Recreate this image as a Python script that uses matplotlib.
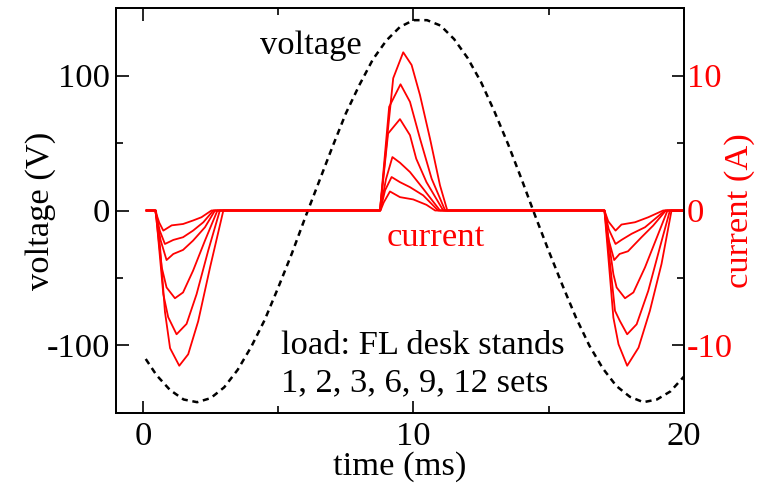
import matplotlib.pyplot as plt
from matplotlib.ticker import MultipleLocator

# voltage waveform (V)
t_volt = [0.1, 0.5, 1.0, 1.5, 2.0, 2.5, 3.0, 3.5, 4.0, 4.5, 5.0, 5.5, 6.0, 6.5,
          7.0, 7.5, 8.0, 8.5, 9.0, 9.5, 10.0, 10.5, 11.0, 11.5, 12.0, 12.5,
          13.0, 13.5, 14.0, 14.5, 15.0, 15.5, 16.0, 16.5, 17.0, 17.5, 18.0,
          18.5, 19.0, 19.5, 20.0]
volt = [-110, -122, -133, -140, -142, -139, -131, -118, -101, -81, -57, -32,
        -5, 21, 47, 72, 93, 112, 126, 136, 141, 141, 137, 127, 113, 95, 73,
        49, 23, -4, -30, -55, -79, -100, -117, -130, -138, -142, -140, -134,
        -123]

# current (A) for 1, 2, 3, 6, 9, 12 sets
t_1 = [0.13, 0.45, 0.6, 0.75, 1.06, 1.48, 1.85, 2.16, 2.53, 8.78, 8.9, 9.13,
       9.5, 9.99, 10.48, 10.8, 17.06, 17.2, 17.47, 17.69, 18.19, 18.68, 19.23, 20.0]
i_1 = [0, 0, -0.9, -1.49, -1.1, -1.0, -0.74, -0.5, 0, 0, 0.6, 1.41,
       0.99, 0.82, 0.42, 0, 0, -0.8, -1.49, -1.04, -0.87, -0.5, 0, 0]

t_2 = [0.13, 0.45, 0.62, 0.81, 1.12, 1.48, 1.85, 2.23, 2.6, 8.77, 8.95, 9.19,
       9.5, 9.87, 10.36, 10.91, 17.06, 17.22, 17.47, 17.69, 18.06, 18.56, 19.3, 20.0]
i_2 = [0, 0, -1.5, -2.48, -2.18, -1.98, -1.49, -0.87, 0, 0, 1.5, 2.48,
       2.1, 1.73, 1.12, 0, 0, -1.4, -2.48, -2.18, -1.73, -1.24, 0, 0]

t_3 = [0.13, 0.45, 0.65, 0.87, 1.12, 1.48, 1.85, 2.29, 2.66, 8.77, 8.98, 9.22,
       9.5, 9.87, 10.36, 10.98, 17.06, 17.22, 17.42, 17.62, 17.93, 18.43,
       18.86, 19.33, 20.0]
i_3 = [0, 0, -2.2, -3.67, -3.22, -2.92, -2.23, -1.24, 0, 0, 2.3, 3.96,
       3.54, 2.85, 1.61, 0, 0, -2.2, -3.67, -3.22, -3.02, -1.98,
       -1.12, 0, 0]

t_6 = [0.13, 0.46, 0.69, 0.87, 1.18, 1.48, 1.85, 2.29, 2.75, 8.76, 9.06, 9.5,
       9.87, 10.1, 10.48, 11.1, 17.06, 17.39, 17.51, 17.82, 18.13, 18.56,
       19.05, 19.39, 20.0]
i_6 = [0, 0, -4.2, -5.7, -6.5, -6.07, -4.46, -2.23, 0, 0, 5.7, 6.77,
       5.58, 3.84, 2.1, 0, 0, -4.71, -5.7, -6.5, -6.07, -4.21,
       -1.73, 0, 0]

t_9 = [0.13, 0.47, 0.75, 0.93, 1.24, 1.61, 1.98, 2.41, 2.84, 8.76, 9.1, 9.52,
       9.87, 10.24, 10.67, 11.17, 17.06, 17.45, 17.63, 17.9, 18.25, 18.68,
       19.11, 19.48, 20.0]
i_9 = [0, 0, -6.2, -7.9, -9.17, -8.4, -6.2, -2.97, 0, 0, 7.68, 9.35,
       8.05, 5.33, 2.36, 0, 0, -7.43, -8.18, -9.17, -8.43, -5.95,
       -2.73, 0, 0]

t_12 = [0.13, 0.48, 0.63, 0.81, 1.0, 1.34, 1.67, 2.04, 2.48, 2.97, 8.76, 9.06,
        9.25, 9.62, 9.93, 10.24, 10.61, 10.98, 11.25, 17.06, 17.39, 17.58,
        17.9, 18.32, 18.74, 19.17, 19.54, 20.0]
i_12 = [0, 0, -2.7, -7.5, -10.2, -11.5, -10.65, -8.2, -4.2, 0, 0, 6.07,
        9.8, 11.72, 10.78, 8.55, 5.33, 1.86, 0, 0, -7.93, -9.91,
        -11.5, -10.16, -7.43, -3.96, 0, 0]

plt.rcParams['font.family'] = ['Liberation Serif', 'DejaVu Serif']
plt.rcParams['font.size'] = 24.8
plt.rcParams['axes.unicode_minus'] = False
plt.rcParams['lines.scale_dashes'] = False

fig = plt.figure(figsize=(7.62, 4.92), dpi=100)
ax = fig.add_axes([0.1522, 0.1606, 0.7454, 0.8231])
ax2 = ax.twinx()

ax.plot(t_volt, volt, color='black', lw=1.8, dashes=(4.4, 3.4))

for tt, ii in [(t_1, i_1), (t_2, i_2), (t_3, i_3), (t_6, i_6), (t_9, i_9), (t_12, i_12)]:
    ax2.plot(tt, ii, color='red', lw=1.3)

ax.set_xlim(-1, 20)
ax.set_ylim(-150, 150)
ax2.set_ylim(-15, 15)

ax.xaxis.set_major_locator(MultipleLocator(10))
ax.xaxis.set_minor_locator(MultipleLocator(5))
ax.yaxis.set_major_locator(MultipleLocator(100))
ax.yaxis.set_minor_locator(MultipleLocator(50))
ax2.yaxis.set_major_locator(MultipleLocator(10))
ax2.yaxis.set_minor_locator(MultipleLocator(5))

ax.tick_params(which='both', direction='in', top=True, width=1.2)
ax.tick_params(which='major', length=9)
ax.tick_params(which='minor', length=5)
ax.tick_params(axis='x', pad=6)
ax.tick_params(axis='y', pad=4)
ax2.tick_params(which='both', direction='in', width=1.2, colors='black',
                labelcolor='red', pad=2)
ax2.tick_params(which='major', length=9)
ax2.tick_params(which='minor', length=5)

for a in (ax, ax2):
    for s in a.spines.values():
        s.set_linewidth(1.3)

ax.set_xlabel('time (ms)')
ax.set_ylabel('voltage (V)')
ax2.set_ylabel('current (A)', color='red')
ax.xaxis.set_label_coords(0.5, -0.094)
ax.yaxis.set_label_coords(-0.106, 0.5)
ax2.yaxis.set_label_coords(1.07, 0.5)

ax.text(6.21, 122, 'voltage', ha='center', va='center')
ax.text(10.83, -20, 'current', ha='center', va='center', color='red')
ax.text(5.1, -100, 'load: FL desk stands', ha='left', va='center')
ax.text(5.1, -128, '1, 2, 3, 6, 9, 12 sets', ha='left', va='center')

fig.savefig('out.png', dpi=100)
